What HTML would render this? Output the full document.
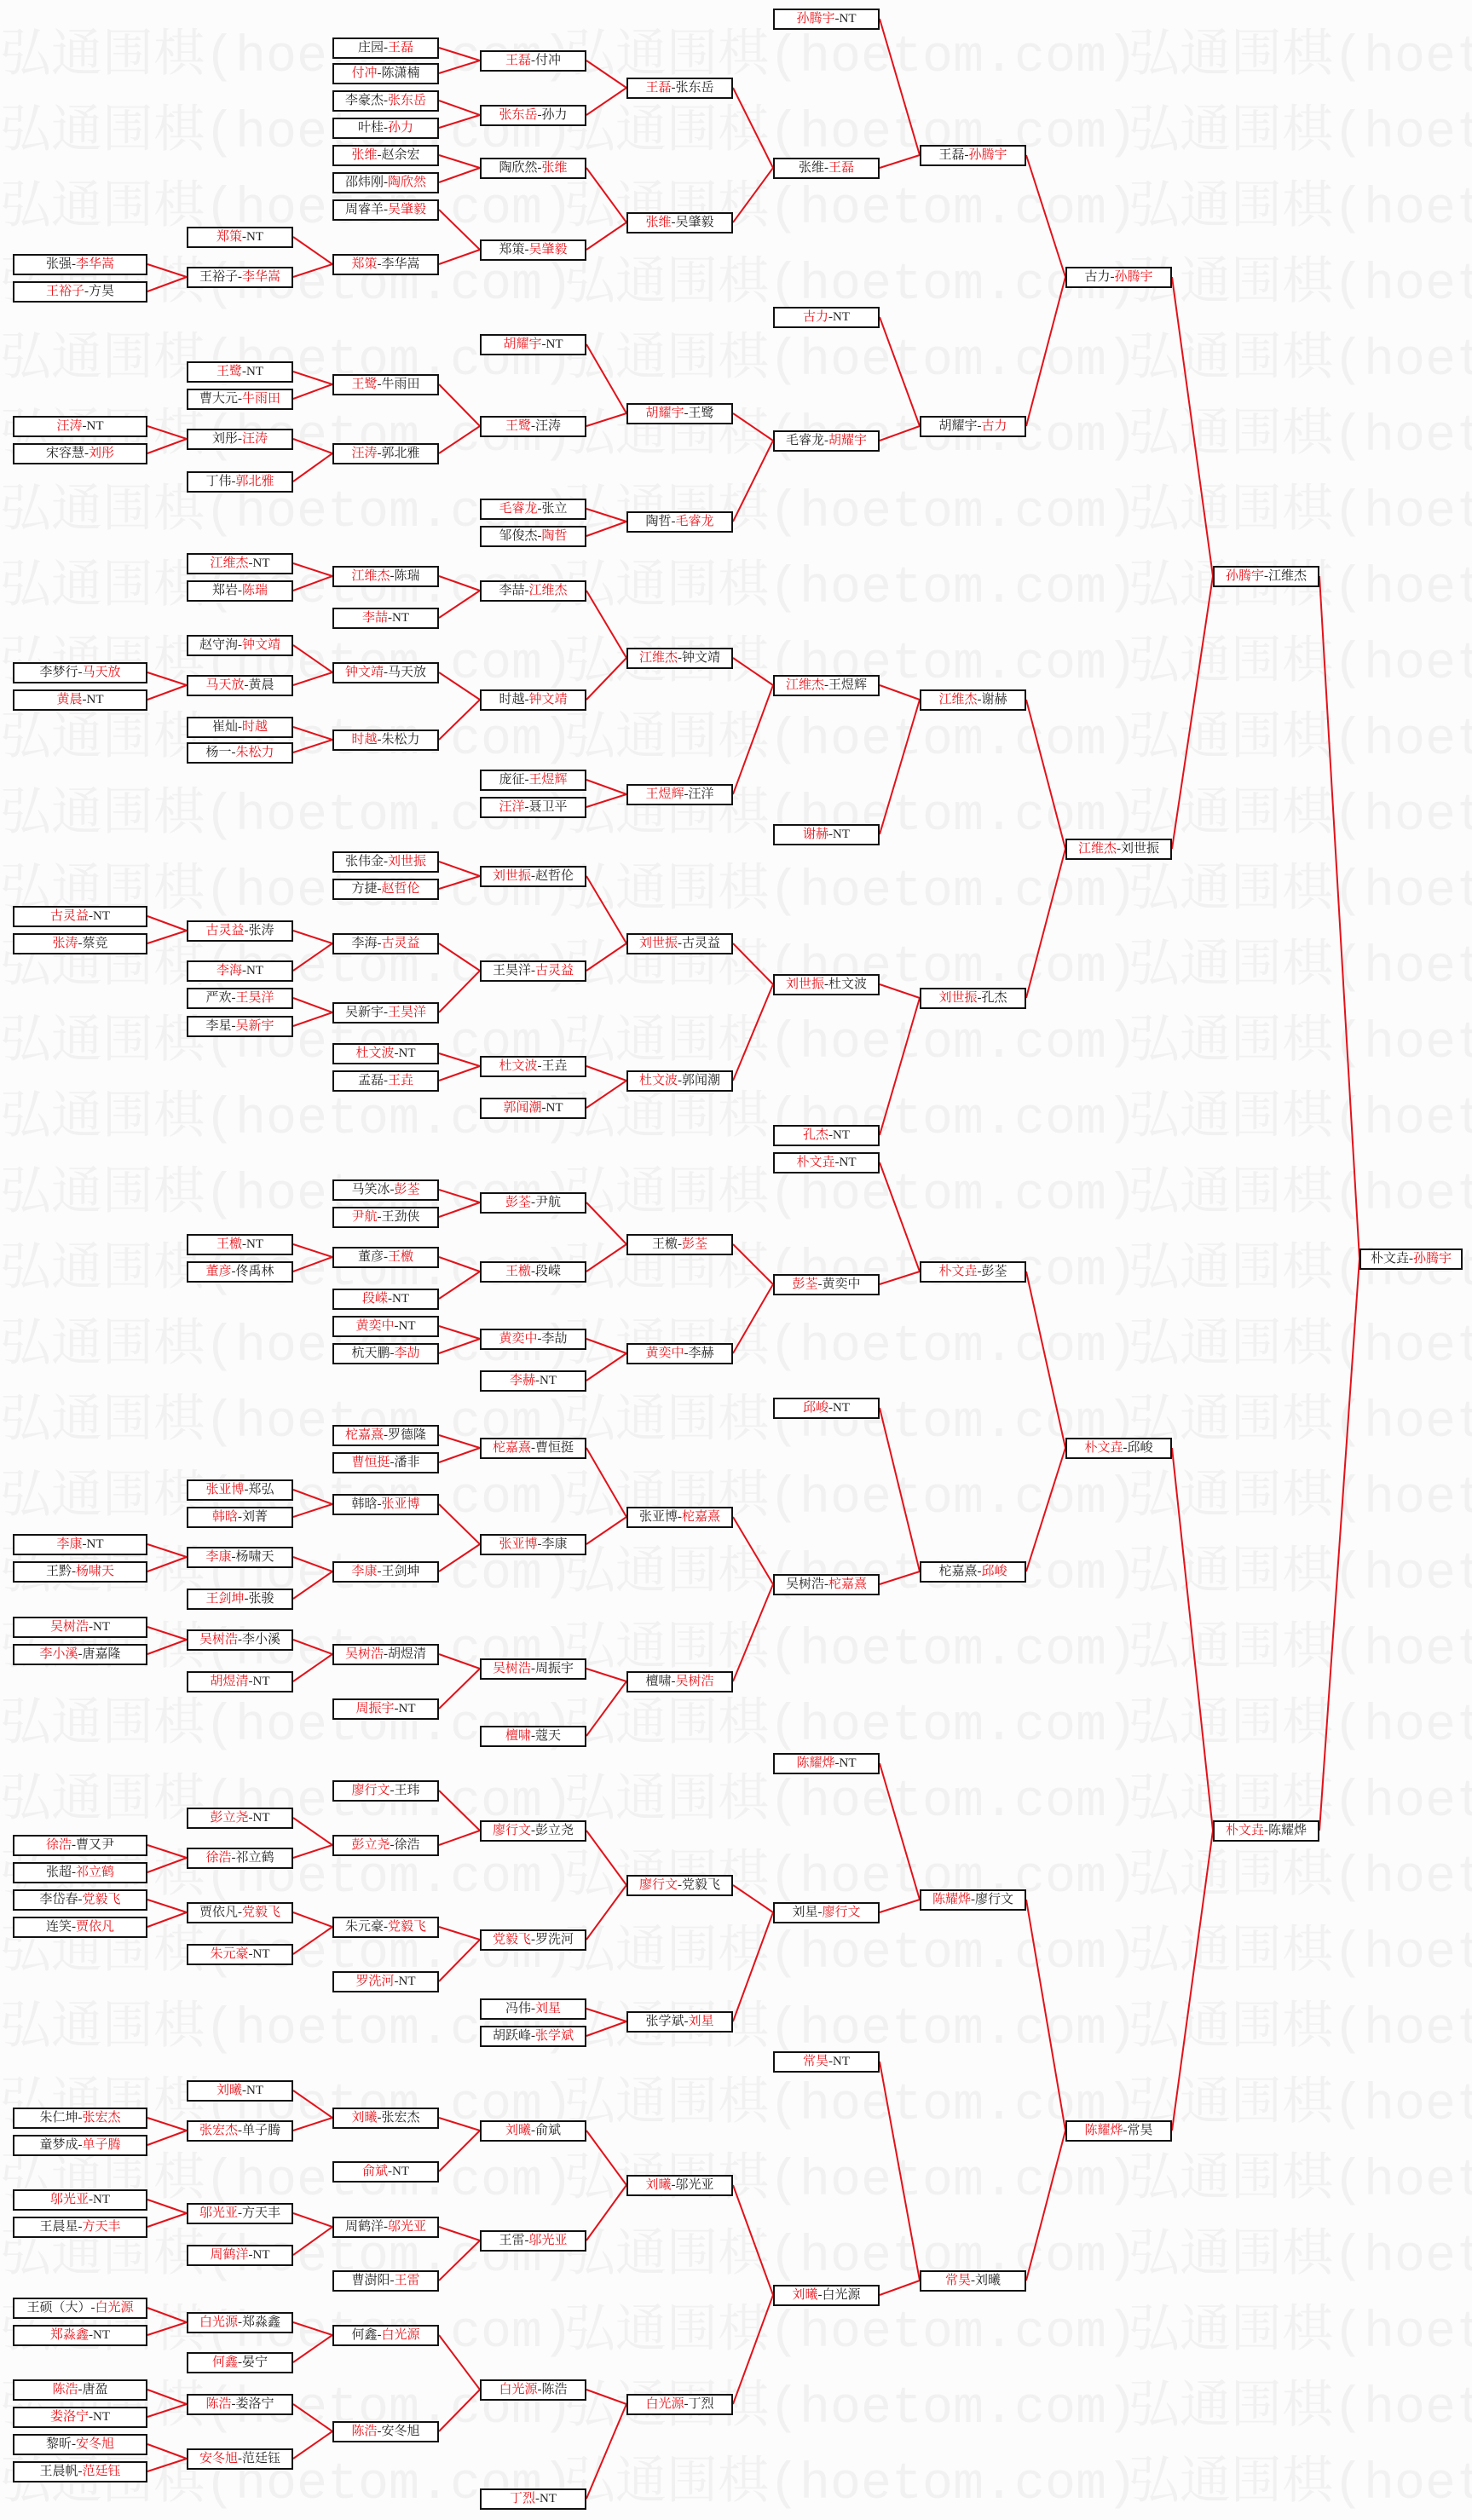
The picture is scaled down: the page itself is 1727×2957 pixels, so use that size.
<!DOCTYPE html>
<html><head><meta charset="utf-8">
<style>
html,body{margin:0;padding:0;}
body{width:1727px;height:2957px;position:relative;background:#fcfcfc;overflow:hidden;font-family:"Liberation Serif","Noto Serif CJK SC",serif;}
#wm{position:absolute;left:0;top:0;width:1727px;height:2957px;overflow:hidden;}
.wr{position:absolute;left:0;white-space:nowrap;height:70px;}
.ws{display:inline-block;width:662px;font-size:60px;color:#f1f1f1;font-family:"Liberation Mono","Noto Serif CJK SC",monospace;font-weight:normal;line-height:70px;}
svg{position:absolute;left:0;top:0;}
.b{position:absolute;height:21px;border:2px solid #111;background:#fff;font-size:15px;line-height:21px;text-align:center;white-space:nowrap;color:#222;box-sizing:content-box;}
.r{color:#e8141b;}
</style></head><body>
<div id="wm"></div>
<svg id="lines" width="1727" height="2957"></svg>
<div id="boxes"></div>
<script>
(function(){
var wm=document.getElementById('wm');var h='';
for(var i=0;i<34;i++){var y=33+i*89;h+='<div class="wr" style="top:'+y+'px">';for(var j=0;j<3;j++)h+='<span class="ws">弘通围棋(hoetom.com)</span>';h+='</div>';}
wm.innerHTML=h;
var X={1:15,2:219,3:390,4:563,5:735,6:907,7:1079,8:1250,9:1423,10:1595};
var W={1:154,2:121,3:121,4:121,5:121,6:121,7:121,8:121,9:121,10:117};
var L=[
['F',10,784,'朴文垚-孙腾宇',''],
['S1',9,359,'孙腾宇-江维杰','F'],['S2',9,1140,'朴文垚-陈耀烨','F'],
['Q1',8,173,'古力-孙腾宇','S1'],['Q2',8,529,'江维杰-刘世振','S1'],['Q3',8,902,'朴文垚-邱峻','S2'],['Q4',8,1327,'陈耀烨-常昊','S2'],
['A',7,97,'王磊-孙腾宇','Q1'],['B',7,266,'胡耀宇-古力','Q1'],['C',7,436,'江维杰-谢赫','Q2'],['D',7,622,'刘世振-孔杰','Q2'],
['E',7,792,'朴文垚-彭荃','Q3'],['G',7,979,'柁嘉熹-邱峻','Q3'],['H',7,1183,'陈耀烨-廖行文','Q4'],['I',7,1420,'常昊-刘曦','Q4'],
['a1',6,12,'孙腾宇-NT','A'],['a2',6,105,'张维-王磊','A'],['b1',6,198,'古力-NT','B'],['b2',6,275,'毛睿龙-胡耀宇','B'],
['c1',6,427,'江维杰-王煜辉','C'],['c2',6,520,'谢赫-NT','C'],['d1',6,613,'刘世振-杜文波','D'],['d2',6,707,'孔杰-NT','D'],
['e1',6,724,'朴文垚-NT','E'],['e2',6,800,'彭荃-黄奕中','E'],['g1',6,877,'邱峻-NT','G'],['g2',6,987,'吴树浩-柁嘉熹','G'],
['h1',6,1098,'陈耀烨-NT','H'],['h2',6,1191,'刘星-廖行文','H'],['i1',6,1284,'常昊-NT','I'],['i2',6,1429,'刘曦-白光源','I'],
['a21',5,55,'王磊-张东岳','a2'],['a22',5,139,'张维-吴肇毅','a2'],['b21',5,258,'胡耀宇-王鹭','b2'],['b22',5,325,'陶哲-毛睿龙','b2'],
['c11',5,410,'江维杰-钟文靖','c1'],['c12',5,495,'王煜辉-汪洋','c1'],['d11',5,588,'刘世振-古灵益','d1'],['d12',5,673,'杜文波-郭闻潮','d1'],
['e21',5,775,'王檄-彭荃','e2'],['e22',5,843,'黄奕中-李赫','e2'],['g21',5,945,'张亚博-柁嘉熹','g2'],['g22',5,1047,'檀啸-吴树浩','g2'],
['h21',5,1174,'廖行文-党毅飞','h2'],['h22',5,1259,'张学斌-刘星','h2'],['i21',5,1361,'刘曦-邬光亚','i2'],['i22',5,1497,'白光源-丁烈','i2'],
['k4a',4,38,'王磊-付冲','a21'],['k4b',4,72,'张东岳-孙力','a21'],['k4c',4,105,'陶欣然-张维','a22'],['k4d',4,156,'郑策-吴肇毅','a22'],
['',4,215,'胡耀宇-NT','b21'],['k4i',4,266,'王鹭-汪涛','b21'],['',4,317,'毛睿龙-张立','b22'],['',4,334,'邹俊杰-陶哲','b22'],
['k4o',4,368,'李喆-江维杰','c11'],['k4p',4,436,'时越-钟文靖','c11'],['',4,486,'庞征-王煜辉','c12'],['',4,503,'汪洋-聂卫平','c12'],
['k4w',4,546,'刘世振-赵哲伦','d11'],['k4x',4,605,'王昊洋-古灵益','d11'],['k4v',4,664,'杜文波-王垚','d12'],['',4,690,'郭闻潮-NT','d12'],
['k4e1',4,749,'彭荃-尹航','e21'],['k4e2',4,792,'王檄-段嵘','e21'],['k4e3',4,834,'黄奕中-李劼','e22'],['',4,860,'李赫-NT','e22'],
['k4g1',4,902,'柁嘉熹-曹恒挺','g21'],['k4g2',4,962,'张亚博-李康','g21'],['k4g3',4,1039,'吴树浩-周振宇','g22'],['',4,1081,'檀啸-蔻天','g22'],
['k4h1',4,1140,'廖行文-彭立尧','h21'],['k4h2',4,1208,'党毅飞-罗洗河','h21'],['',4,1251,'冯伟-刘星','h22'],['',4,1268,'胡跃峰-张学斌','h22'],
['k4i1',4,1327,'刘曦-俞斌','i21'],['k4i2',4,1395,'王雷-邬光亚','i21'],['k4i3',4,1488,'白光源-陈浩','i22'],['',4,1556,'丁烈-NT','i22'],
['',3,30,'庄园-王磊','k4a'],['',3,46,'付冲-陈潇楠','k4a'],['',3,63,'李豪杰-张东岳','k4b'],['',3,80,'叶桂-孙力','k4b'],
['',3,97,'张维-赵余宏','k4c'],['',3,114,'邵炜刚-陶欣然','k4c'],['',3,131,'周睿羊-吴肇毅','k4d'],['k3e',3,165,'郑策-李华嵩','k4d'],
['k3j',3,240,'王鹭-牛雨田','k4i'],['k3k',3,283,'汪涛-郭北雅','k4i'],
['k3q',3,359,'江维杰-陈瑞','k4o'],['',3,385,'李喆-NT','k4o'],['k3r',3,419,'钟文靖-马天放','k4p'],['k3s',3,461,'时越-朱松力','k4p'],
['',3,537,'张伟金-刘世振','k4w'],['',3,554,'方捷-赵哲伦','k4w'],['k3y',3,588,'李海-古灵益','k4x'],['k3z',3,631,'吴新宇-王昊洋','k4x'],
['',3,656,'杜文波-NT','k4v'],['',3,673,'孟磊-王垚','k4v'],
['',3,741,'马笑冰-彭荃','k4e1'],['',3,758,'尹航-王劲侠','k4e1'],['k3e2',3,783,'董彦-王檄','k4e2'],['',3,809,'段嵘-NT','k4e2'],
['',3,826,'黄奕中-NT','k4e3'],['',3,843,'杭天鹏-李劼','k4e3'],
['',3,894,'柁嘉熹-罗德隆','k4g1'],['',3,911,'曹恒挺-潘非','k4g1'],['k3g2',3,937,'韩晗-张亚博','k4g2'],['k3g3',3,979,'李康-王剑坤','k4g2'],
['k3g4',3,1030,'吴树浩-胡煜清','k4g3'],['',3,1064,'周振宇-NT','k4g3'],
['',3,1115,'廖行文-王玮','k4h1'],['k3h2',3,1149,'彭立尧-徐浩','k4h1'],['k3h3',3,1200,'朱元豪-党毅飞','k4h2'],['',3,1234,'罗洗河-NT','k4h2'],
['k3i1',3,1319,'刘曦-张宏杰','k4i1'],['',3,1352,'俞斌-NT','k4i1'],['k3i2',3,1387,'周鹤洋-邬光亚','k4i2'],['',3,1420,'曹澍阳-王雷','k4i2'],
['k3i3',3,1454,'何鑫-白光源','k4i3'],['k3i4',3,1514,'陈浩-安冬旭','k4i3'],
['',2,148,'郑策-NT','k3e'],['k2f',2,173,'王裕子-李华嵩','k3e'],['',2,232,'王鹭-NT','k3j'],['',2,249,'曹大元-牛雨田','k3j'],
['k2l',2,274,'刘彤-汪涛','k3k'],['',2,300,'丁伟-郭北雅','k3k'],['',2,351,'江维杰-NT','k3q'],['',2,368,'郑岩-陈瑞','k3q'],
['',2,402,'赵守洵-钟文靖','k3r'],['k2t',2,427,'马天放-黄晨','k3r'],['',2,453,'崔灿-时越','k3s'],['',2,469,'杨一-朱松力','k3s'],
['k2y1',2,580,'古灵益-张涛','k3y'],['',2,605,'李海-NT','k3y'],['',2,622,'严欢-王昊洋','k3z'],['',2,639,'李星-吴新宇','k3z'],
['',2,775,'王檄-NT','k3e2'],['',2,792,'董彦-佟禹林','k3e2'],
['',2,928,'张亚博-郑弘','k3g2'],['',2,945,'韩晗-刘菁','k3g2'],['k2g3',2,970,'李康-杨啸天','k3g3'],['',2,996,'王剑坤-张骏','k3g3'],
['k2g4',2,1021,'吴树浩-李小溪','k3g4'],['',2,1047,'胡煜清-NT','k3g4'],
['',2,1132,'彭立尧-NT','k3h2'],['k2h2',2,1157,'徐浩-祁立鹤','k3h2'],['k2h3',2,1191,'贾依凡-党毅飞','k3h3'],['',2,1217,'朱元豪-NT','k3h3'],
['',2,1302,'刘曦-NT','k3i1'],['k2i1',2,1327,'张宏杰-单子腾','k3i1'],['k2i2',2,1378,'邬光亚-方天丰','k3i2'],['',2,1404,'周鹤洋-NT','k3i2'],
['k2i3',2,1446,'白光源-郑淼鑫','k3i3'],['',2,1471,'何鑫-晏宁','k3i3'],['k2i4',2,1497,'陈浩-娄洛宁','k3i4'],['k2i5',2,1531,'安冬旭-范廷钰','k3i4'],
['',1,165,'张强-李华嵩','k2f'],['',1,182,'王裕子-方昊','k2f'],['',1,266,'汪涛-NT','k2l'],['',1,283,'宋容慧-刘彤','k2l'],
['',1,419,'李梦行-马天放','k2t'],['',1,436,'黄晨-NT','k2t'],['',1,571,'古灵益-NT','k2y1'],['',1,588,'张涛-蔡竞','k2y1'],
['',1,962,'李康-NT','k2g3'],['',1,979,'王黔-杨啸天','k2g3'],['',1,1013,'吴树浩-NT','k2g4'],['',1,1030,'李小溪-唐嘉隆','k2g4'],
['',1,1149,'徐浩-曹又尹','k2h2'],['',1,1166,'张超-祁立鹤','k2h2'],['',1,1183,'李岱春-党毅飞','k2h3'],['',1,1200,'连笑-贾依凡','k2h3'],
['',1,1319,'朱仁坤-张宏杰','k2i1'],['',1,1336,'童梦成-单子腾','k2i1'],['',1,1370,'邬光亚-NT','k2i2'],['',1,1387,'王晨星-方天丰','k2i2'],
['',1,1437,'王硕（大）-白光源','k2i3'],['',1,1454,'郑淼鑫-NT','k2i3'],['',1,1488,'陈浩-唐盈','k2i4'],['',1,1505,'娄洛宁-NT','k2i4'],
['',1,1522,'黎昕-安冬旭','k2i5'],['',1,1539,'王晨帆-范廷钰','k2i5']
];
var M={};L.forEach(function(n){if(n[0])M[n[0]]=n;});
var bh='',sv='';
L.forEach(function(n){
 var c=n[1],cy=Math.round(n[2]*1.885-1),x=X[c],w=W[c];
 var parts=n[3].split('-'),p=n[4]?M[n[4]]:null,red=-1;
 if(p){var pp=p[3].split('-');if(pp.indexOf(parts[0])>=0)red=0;else if(pp.indexOf(parts[1])>=0)red=1;}
 else red=1;
 var t=parts.map(function(s,i){return i===red?'<span class="r">'+s+'</span>':s;}).join('-');
 bh+='<div class="b" style="left:'+x+'px;top:'+(cy-12)+'px;width:'+w+'px">'+t+'</div>';
 if(p){var px=X[p[1]],py=Math.round(p[2]*1.885-1);
  sv+='<line x1="'+(x+w+4)+'" y1="'+cy+'" x2="'+px+'" y2="'+py+'" stroke="#e2121a" stroke-width="2"/>';}
});
document.getElementById('boxes').innerHTML=bh;
document.getElementById('lines').innerHTML=sv;
})();
</script>
</body></html>
